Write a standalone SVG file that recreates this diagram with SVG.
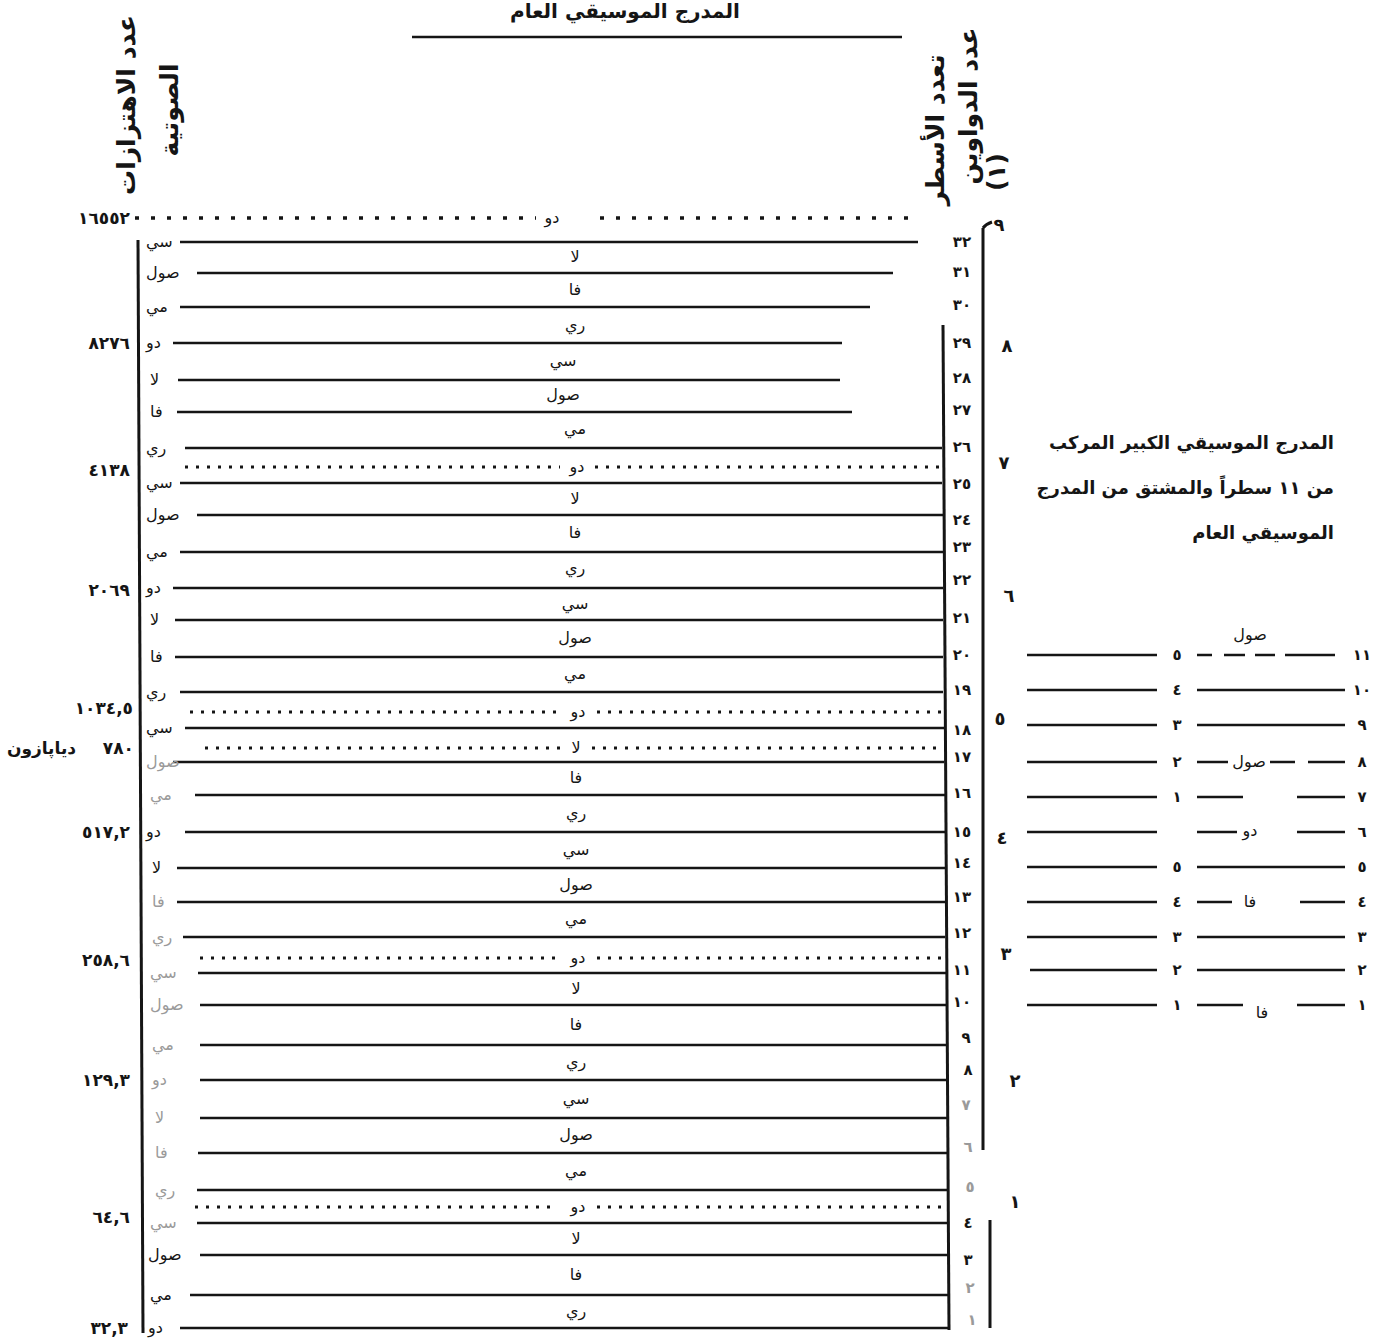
<svg xmlns="http://www.w3.org/2000/svg" width="1386" height="1342" viewBox="0 0 1386 1342">
<style>
.ln{stroke:#151515;stroke-width:2.3;fill:none}
.dt{stroke:#151515;stroke-width:3.2;stroke-dasharray:3 8;fill:none}
.dt2{stroke:#151515;stroke-width:3.4;stroke-dasharray:4 12;fill:none}
.vl{stroke:#151515;stroke-width:3;fill:none}
text{font-family:"DejaVu Sans",sans-serif;fill:#151515}
.lb{font-size:16px}
.cl{font-size:16px;text-anchor:middle}
.nr{font-size:15px;font-weight:bold;text-anchor:middle}
.fr{font-size:17px;font-weight:bold;text-anchor:end}
.oc{font-size:18px;font-weight:bold;text-anchor:middle}
.hd{font-size:25px;font-weight:bold;text-anchor:middle}
.tt{font-size:20px;font-weight:bold;text-anchor:middle}
.lg{font-size:18px;font-weight:bold;text-anchor:end}
.ln2{font-size:15px;font-weight:bold;text-anchor:middle}
.fd{fill:#9a9a9a}
</style>
<rect width="1386" height="1342" fill="#ffffff"/>

<g id="title">
<text x="625" y="18" class="tt">المدرج الموسيقي العام</text>
<line x1="412" y1="37" x2="902" y2="37" class="ln"/>
</g>

<g id="headers">
<text class="hd" transform="translate(135,105) rotate(-90)">عدد الاهتزازات</text>
<text class="hd" transform="translate(178,110) rotate(-90)">الصوتية</text>
<text class="hd" transform="translate(944,130) rotate(-90)">تعدد الأسطر</text>
<text class="hd" transform="translate(977,106) rotate(-90)">عدد الدواوين</text>
<text class="hd" transform="translate(1005,172) rotate(-90)">(١)</text>
</g>

<g id="staff-lines">
<line x1="180" y1="242" x2="918" y2="242" class="ln"/>
<line x1="197" y1="273" x2="893" y2="273" class="ln"/>
<line x1="180" y1="307" x2="870" y2="307" class="ln"/>
<line x1="173" y1="343" x2="842" y2="343" class="ln"/>
<line x1="178" y1="380" x2="840" y2="380" class="ln"/>
<line x1="177" y1="412" x2="852" y2="412" class="ln"/>
<line x1="185" y1="448" x2="942" y2="448" class="ln"/>
<line x1="180" y1="483" x2="942" y2="483" class="ln"/>
<line x1="197" y1="515" x2="943" y2="515" class="ln"/>
<line x1="180" y1="552" x2="943" y2="552" class="ln"/>
<line x1="173" y1="588" x2="943" y2="588" class="ln"/>
<line x1="175" y1="620" x2="943" y2="620" class="ln"/>
<line x1="175" y1="657" x2="943" y2="657" class="ln"/>
<line x1="180" y1="692" x2="943" y2="692" class="ln"/>
<line x1="185" y1="728" x2="944" y2="728" class="ln"/>
<line x1="173" y1="762" x2="944" y2="762" class="ln"/>
<line x1="195" y1="795" x2="945" y2="795" class="ln"/>
<line x1="185" y1="832" x2="945" y2="832" class="ln"/>
<line x1="177" y1="868" x2="945" y2="868" class="ln"/>
<line x1="177" y1="902" x2="945" y2="902" class="ln"/>
<line x1="183" y1="937" x2="945" y2="937" class="ln"/>
<line x1="198" y1="973" x2="946" y2="973" class="ln"/>
<line x1="200" y1="1005" x2="946" y2="1005" class="ln"/>
<line x1="200" y1="1045" x2="946" y2="1045" class="ln"/>
<line x1="200" y1="1080" x2="946" y2="1080" class="ln"/>
<line x1="200" y1="1118" x2="947" y2="1118" class="ln"/>
<line x1="198" y1="1153" x2="947" y2="1153" class="ln"/>
<line x1="197" y1="1190" x2="947" y2="1190" class="ln"/>
<line x1="197" y1="1223" x2="948" y2="1223" class="ln"/>
<line x1="200" y1="1255" x2="948" y2="1255" class="ln"/>
<line x1="190" y1="1295" x2="948" y2="1295" class="ln"/>
<line x1="180" y1="1328" x2="948" y2="1328" class="ln"/>
</g>

<g id="dotted-lines">
<path d="M135 218H536M600 218H918" class="dt2"/>
<path d="M185 467H560M595 467H940" class="dt"/>
<path d="M190 712H560M597 712H945" class="dt"/>
<path d="M205 748H560M592 748H945" class="dt"/>
<path d="M200 958H558M597 958H945" class="dt"/>
<path d="M195 1207H558M597 1207H945" class="dt"/>
</g>

<g id="verticals">
<line x1="138" y1="240" x2="143" y2="1333" class="vl"/>
<line x1="943" y1="325" x2="949" y2="1330" class="vl"/>
<path d="M983 228Q986 224 992 222M983 228V1150" class="vl"/>
<line x1="990" y1="1220" x2="990" y2="1328" class="vl"/>
</g>

<g id="frequency-values">
<text x="130" y="224" class="fr">١٦٥٥٢</text>
<text x="130" y="349" class="fr">٨٢٧٦</text>
<text x="130" y="476" class="fr">٤١٣٨</text>
<text x="130" y="596" class="fr">٢٠٦٩</text>
<text x="133" y="714" class="fr">١٠٣٤,٥</text>
<text x="134" y="754" class="fr">٧٨٠</text>
<text x="76" y="754" class="fr">دياپازون</text>
<text x="130" y="838" class="fr">٥١٧,٢</text>
<text x="130" y="966" class="fr">٢٥٨,٦</text>
<text x="130" y="1086" class="fr">١٢٩,٣</text>
<text x="130" y="1223" class="fr">٦٤,٦</text>
<text x="128" y="1334" class="fr">٣٢,٣</text>
</g>

<g id="line-notes">
<text x="146" y="247" class="lb">سي</text>
<text x="146" y="278" class="lb">صول</text>
<text x="146" y="312" class="lb">مي</text>
<text x="146" y="348" class="lb">دو</text>
<text x="150" y="385" class="lb">لا</text>
<text x="150" y="417" class="lb">فا</text>
<text x="146" y="453" class="lb">ري</text>
<text x="146" y="488" class="lb">سي</text>
<text x="146" y="520" class="lb">صول</text>
<text x="146" y="557" class="lb">مي</text>
<text x="146" y="593" class="lb">دو</text>
<text x="150" y="625" class="lb">لا</text>
<text x="150" y="662" class="lb">فا</text>
<text x="146" y="697" class="lb">ري</text>
<text x="146" y="733" class="lb">سي</text>
<text x="146" y="767" class="lb fd">صول</text>
<text x="150" y="800" class="lb fd">مي</text>
<text x="146" y="837" class="lb">دو</text>
<text x="152" y="873" class="lb">لا</text>
<text x="152" y="907" class="lb fd">فا</text>
<text x="152" y="942" class="lb fd">ري</text>
<text x="150" y="978" class="lb fd">سي</text>
<text x="150" y="1010" class="lb fd">صول</text>
<text x="152" y="1050" class="lb fd">مي</text>
<text x="152" y="1085" class="lb fd">دو</text>
<text x="155" y="1123" class="lb fd">لا</text>
<text x="155" y="1158" class="lb fd">فا</text>
<text x="155" y="1195" class="lb fd">ري</text>
<text x="150" y="1228" class="lb fd">سي</text>
<text x="148" y="1260" class="lb">صول</text>
<text x="150" y="1300" class="lb">مي</text>
<text x="148" y="1333" class="lb">دو</text>
</g>

<g id="space-notes">
<text x="552" y="223" class="cl">دو</text>
<text x="575" y="262" class="cl">لا</text>
<text x="575" y="295" class="cl">فا</text>
<text x="575" y="330" class="cl">ري</text>
<text x="563" y="366" class="cl">سي</text>
<text x="563" y="400" class="cl">صول</text>
<text x="575" y="434" class="cl">مي</text>
<text x="577" y="472" class="cl">دو</text>
<text x="575" y="504" class="cl">لا</text>
<text x="575" y="538" class="cl">فا</text>
<text x="575" y="573" class="cl">ري</text>
<text x="575" y="609" class="cl">سي</text>
<text x="575" y="643" class="cl">صول</text>
<text x="575" y="679" class="cl">مي</text>
<text x="578" y="717" class="cl">دو</text>
<text x="576" y="753" class="cl">لا</text>
<text x="576" y="783" class="cl">فا</text>
<text x="576" y="818" class="cl">ري</text>
<text x="576" y="855" class="cl">سي</text>
<text x="576" y="890" class="cl">صول</text>
<text x="576" y="924" class="cl">مي</text>
<text x="578" y="963" class="cl">دو</text>
<text x="576" y="994" class="cl">لا</text>
<text x="576" y="1030" class="cl">فا</text>
<text x="576" y="1067" class="cl">ري</text>
<text x="576" y="1104" class="cl">سي</text>
<text x="576" y="1140" class="cl">صول</text>
<text x="576" y="1176" class="cl">مي</text>
<text x="578" y="1212" class="cl">دو</text>
<text x="576" y="1244" class="cl">لا</text>
<text x="576" y="1280" class="cl">فا</text>
<text x="576" y="1316" class="cl">ري</text>
</g>

<g id="line-numbers">
<text x="962" y="247" class="nr">٣٢</text>
<text x="962" y="277" class="nr">٣١</text>
<text x="962" y="310" class="nr">٣٠</text>
<text x="962" y="348" class="nr">٢٩</text>
<text x="962" y="383" class="nr">٢٨</text>
<text x="962" y="415" class="nr">٢٧</text>
<text x="962" y="452" class="nr">٢٦</text>
<text x="962" y="489" class="nr">٢٥</text>
<text x="962" y="525" class="nr">٢٤</text>
<text x="962" y="552" class="nr">٢٣</text>
<text x="962" y="585" class="nr">٢٢</text>
<text x="962" y="623" class="nr">٢١</text>
<text x="962" y="660" class="nr">٢٠</text>
<text x="962" y="695" class="nr">١٩</text>
<text x="962" y="735" class="nr">١٨</text>
<text x="962" y="762" class="nr">١٧</text>
<text x="962" y="798" class="nr">١٦</text>
<text x="962" y="837" class="nr">١٥</text>
<text x="962" y="868" class="nr">١٤</text>
<text x="962" y="902" class="nr">١٣</text>
<text x="962" y="938" class="nr">١٢</text>
<text x="962" y="975" class="nr">١١</text>
<text x="962" y="1007" class="nr">١٠</text>
<text x="966" y="1043" class="nr">٩</text>
<text x="968" y="1075" class="nr">٨</text>
<text x="966" y="1110" class="nr fd">٧</text>
<text x="968" y="1152" class="nr fd">٦</text>
<text x="970" y="1192" class="nr fd">٥</text>
<text x="968" y="1228" class="nr">٤</text>
<text x="968" y="1265" class="nr">٣</text>
<text x="970" y="1293" class="nr fd">٢</text>
<text x="972" y="1325" class="nr fd">١</text>
</g>

<g id="octave-numbers">
<text x="999" y="231" class="oc">٩</text>
<text x="1007" y="352" class="oc">٨</text>
<text x="1004" y="469" class="oc">٧</text>
<text x="1009" y="602" class="oc">٦</text>
<text x="1000" y="725" class="oc">٥</text>
<text x="1002" y="844" class="oc">٤</text>
<text x="1006" y="960" class="oc">٣</text>
<text x="1015" y="1087" class="oc">٢</text>
<text x="1015" y="1208" class="oc">١</text>
</g>

<g id="legend-title">
<text x="1334" y="449" class="lg">المدرج الموسيقي الكبير المركب</text>
<text x="1334" y="494" class="lg">من ١١ سطراً والمشتق من المدرج</text>
<text x="1334" y="539" class="lg">الموسيقي العام</text>
</g>

<g id="legend-staff">
<path d="M1027 655H1157M1197 655H1212M1224 655H1245M1255 655H1275M1285 655H1335" class="ln"/>
<path d="M1027 690H1157M1197 690H1345" class="ln"/>
<path d="M1027 725H1157M1197 725H1345" class="ln"/>
<path d="M1027 762H1157M1197 762H1228M1270 762H1295M1308 762H1345" class="ln"/>
<path d="M1027 797H1157M1197 797H1243M1297 797H1345" class="ln"/>
<path d="M1027 832H1157M1197 832H1237M1297 832H1345" class="ln"/>
<path d="M1027 867H1157M1197 867H1345" class="ln"/>
<path d="M1027 902H1157M1197 902H1232M1300 902H1345" class="ln"/>
<path d="M1027 937H1157M1197 937H1345" class="ln"/>
<path d="M1030 970H1157M1197 970H1345" class="ln"/>
<path d="M1027 1005H1157M1197 1005H1243M1297 1005H1345" class="ln"/>
<text x="1250" y="640" class="lb" text-anchor="middle">صول</text>
<text x="1249" y="767" class="lb" text-anchor="middle">صول</text>
<text x="1250" y="836" class="lb" text-anchor="middle">دو</text>
<text x="1250" y="907" class="lb" text-anchor="middle">فا</text>
<text x="1262" y="1018" class="lb" text-anchor="middle">فا</text>
<text x="1177" y="660" class="ln2">٥</text>
<text x="1177" y="695" class="ln2">٤</text>
<text x="1177" y="730" class="ln2">٣</text>
<text x="1177" y="767" class="ln2">٢</text>
<text x="1177" y="802" class="ln2">١</text>
<text x="1177" y="872" class="ln2">٥</text>
<text x="1177" y="907" class="ln2">٤</text>
<text x="1177" y="942" class="ln2">٣</text>
<text x="1177" y="975" class="ln2">٢</text>
<text x="1177" y="1010" class="ln2">١</text>
<text x="1362" y="660" class="ln2">١١</text>
<text x="1362" y="695" class="ln2">١٠</text>
<text x="1362" y="730" class="ln2">٩</text>
<text x="1362" y="767" class="ln2">٨</text>
<text x="1362" y="802" class="ln2">٧</text>
<text x="1362" y="837" class="ln2">٦</text>
<text x="1362" y="872" class="ln2">٥</text>
<text x="1362" y="907" class="ln2">٤</text>
<text x="1362" y="942" class="ln2">٣</text>
<text x="1362" y="975" class="ln2">٢</text>
<text x="1362" y="1010" class="ln2">١</text>
</g>
</svg>
